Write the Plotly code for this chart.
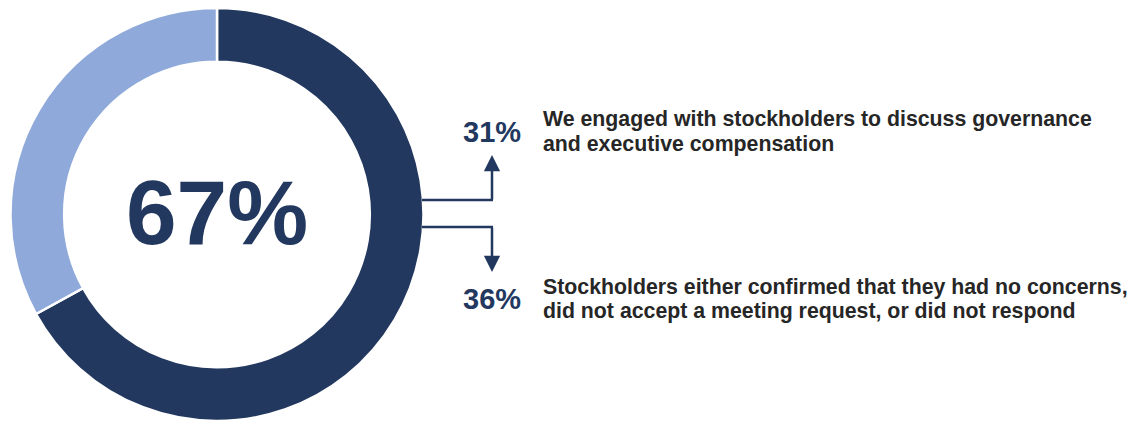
import plotly.graph_objects as go

# The page body adds an 8px margin, so the figure is drawn 8px in and the
# positions below are converted from window pixels accordingly.
OFF = 8
W, H = 1135 - OFF, 423 - OFF

labels = ["Engaged or no concerns", "Other"]
values = [67, 33]
colors = ["#22385F", "#8FAADA"]

center_label = "67%"
callout_pcts = ["31%", "36%"]
callout_lines = [
    ["We engaged with stockholders to discuss governance",
     "and executive compensation"],
    ["Stockholders either confirmed that they had no concerns,",
     "did not accept a meeting request, or did not respond"],
]

NAVY = "#22385F"
TEXT = "#262626"
FONT = "Liberation Sans, Arial, sans-serif"

def px(x):
    return (x - OFF) / W

def py(y):
    return min(1.0, max(0.0, 1 - (y - OFF) / H))

fig = go.Figure()
fig.add_trace(go.Pie(
    labels=labels, values=values, hole=0.74, sort=False,
    direction="clockwise", rotation=0,
    marker=dict(colors=colors, line=dict(color="white", width=2.5)),
    textinfo="none", hoverinfo="label+percent", showlegend=False,
    domain=dict(x=[px(10.5), px(423.5)], y=[py(421), py(8)]),
))

shapes = []
for y in (200, 227):
    shapes.append(dict(type="line", xref="paper", yref="paper",
                       x0=px(422), x1=px(493), y0=py(y), y1=py(y),
                       line=dict(color=NAVY, width=2.5)))
fig.update_layout(shapes=shapes)

annotations = [
    dict(text=f"<b>{center_label}</b>", x=px(217), y=py(212), xref="paper", yref="paper",
         xanchor="center", yanchor="middle",
         showarrow=False, font=dict(size=91, color=NAVY, family=FONT)),
    dict(x=px(492), y=py(155), ax=0, ay=46, xref="paper", yref="paper", text="",
         showarrow=True, arrowhead=2, arrowsize=1.3, arrowwidth=2.5, arrowcolor=NAVY),
    dict(x=px(492), y=py(272), ax=0, ay=-46, xref="paper", yref="paper", text="",
         showarrow=True, arrowhead=2, arrowsize=1.3, arrowwidth=2.5, arrowcolor=NAVY),
    dict(text=f"<b>{callout_pcts[0]}</b>", x=px(492), y=py(132), xref="paper", yref="paper",
         xanchor="center", yanchor="middle",
         showarrow=False, font=dict(size=29, color=NAVY, family=FONT)),
    dict(text=f"<b>{callout_pcts[1]}</b>", x=px(492), y=py(299), xref="paper", yref="paper",
         xanchor="center", yanchor="middle",
         showarrow=False, font=dict(size=29, color=NAVY, family=FONT)),
]

line_centers = [[119.5, 144], [287, 311]]
for lines, ys in zip(callout_lines, line_centers):
    for txt, yc in zip(lines, ys):
        annotations.append(dict(
            text=f"<b>{txt}</b>", x=px(541), y=py(yc), xref="paper", yref="paper",
            xanchor="left", yanchor="middle", align="left", showarrow=False,
            font=dict(size=21.3, color=TEXT, family=FONT)))

fig.update_layout(
    width=W, height=H,
    margin=dict(l=0, r=0, t=0, b=0),
    paper_bgcolor="white", plot_bgcolor="white",
    annotations=annotations,
)

fig.write_html("out.html")
